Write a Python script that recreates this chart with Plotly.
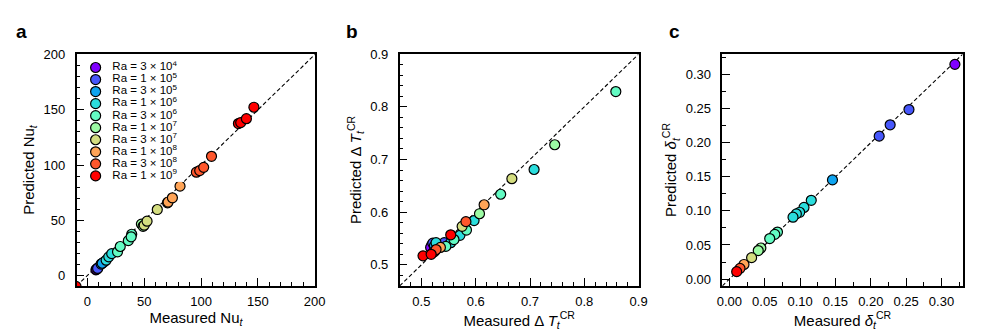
import plotly.graph_objects as go

# Rayleigh numbers (legend labels)
ra_labels = ["3 × 10<sup>4</sup>", "1 × 10<sup>5</sup>", "3 × 10<sup>5</sup>", "1 × 10<sup>6</sup>",
             "3 × 10<sup>6</sup>", "1 × 10<sup>7</sup>", "3 × 10<sup>7</sup>", "1 × 10<sup>8</sup>",
             "3 × 10<sup>8</sup>", "1 × 10<sup>9</sup>"]
# matplotlib "rainbow" sampled at 10 levels
ra_colors = ["rgb(128,0,255)", "rgb(71,87,251)", "rgb(14,164,240)", "rgb(43,221,221)",
             "rgb(99,251,195)", "rgb(156,251,164)", "rgb(212,221,128)", "rgb(255,164,87)",
             "rgb(255,87,44)", "rgb(255,0,0)"]

# panel a: Nu_t
nu_meas = [[7.5, 8.0], [9.2, 9.0], [12.1, 14.1, 13.0], [16.5, 18.8, 21.4],
           [26.5, 28.9, 36.0, 39.0, 38.5], [47.5, 49.0], [50.0, 52.5, 61.5],
           [70.5, 71.0, 74.8, 81.5], [95.9, 98.8, 102.3, 109.2],
           [-10.0, 132.9, 134.9, 139.9, 146.5]]
nu_pred = [[5.0, 5.5], [6.8, 6.3], [10.3, 11.8, 11.0], [13.8, 16.8, 19.7],
           [21.4, 26.2, 31.5, 37.3, 35.0], [46.5, 44.5], [45.5, 49.1, 59.7],
           [65.8, 66.5, 70.3, 80.9], [93.5, 95.0, 97.9, 107.9],
           [-10.0, 137.6, 138.5, 142.0, 152.4]]

# panel b: Delta T_t^CR
dt_meas = [[0.519, 0.517], [0.521, 0.542], [0.524], [0.527, 0.554, 0.571, 0.597, 0.7075],
           [0.545, 0.583, 0.646, 0.858, 0.560], [0.607, 0.7455], [0.575, 0.6666],
           [0.535, 0.525, 0.6155], [0.522, 0.527, 0.582], [0.503, 0.518, 0.554]]
dt_pred = [[0.537, 0.533], [0.541, 0.542], [0.536], [0.542, 0.542, 0.556, 0.584, 0.681],
           [0.535, 0.566, 0.634, 0.829, 0.548], [0.597, 0.728], [0.573, 0.6635],
           [0.533, 0.526, 0.614], [0.524, 0.529, 0.582], [0.517, 0.520, 0.557]]

# panel c: delta_t^CR
dl_meas = [[0.319], [0.254, 0.2274, 0.2119], [0.1458],
           [0.1158, 0.1055, 0.0994, 0.0947, 0.090], [0.068, 0.0642, 0.057],
           [0.0445, 0.0408], [0.0314], [0.0206], [0.015], [0.0103]]
dl_pred = [[0.315], [0.2487, 0.2263, 0.2097], [0.1455],
           [0.1156, 0.1051, 0.098, 0.0956, 0.0908], [0.069, 0.0656, 0.0594],
           [0.0456, 0.0418], [0.0314], [0.0214], [0.0157], [0.0109]]

FONT = "Arial, Liberation Sans, sans-serif"
W, H = 997, 335

panels = [
    dict(meas=nu_meas, pred=nu_pred, rng=[-9.5, 200.5], dtick=50, minor=10, fmt="",
         xt="Measured Nu<sub><i>t</i></sub>", yt="Predicted Nu<sub><i>t</i></sub>",
         box=(72.7, 315.0), letter="a", lx=17),
    dict(meas=dt_meas, pred=dt_pred, rng=[0.46, 0.9], dtick=0.1, minor=0.02, fmt=".1f",
         xt="Measured Δ <i>T</i><sub><i>t</i></sub><sup>CR</sup>",
         yt="Predicted Δ <i>T</i><sub><i>t</i></sub><sup>CR</sup>",
         box=(400.7, 643.3), letter="b", lx=352),
    dict(meas=dl_meas, pred=dl_pred, rng=[-0.01, 0.33], dtick=0.05, minor=0.025, fmt=".2f",
         xt="Measured <i>δ</i><sub><i>t</i></sub><sup>CR</sup>",
         yt="Predicted <i>δ</i><sub><i>t</i></sub><sup>CR</sup>",
         box=(728.3, 972.3), letter="c", lx=680),
]

top_px, bot_px = 48.3, 285.7
ydom = [(H - bot_px) / H, (H - top_px) / H]

fig = go.Figure()
layout = {}
for k, p in enumerate(panels):
    ax = "" if k == 0 else str(k + 1)
    xref, yref = "x" + ax, "y" + ax
    # diagonal y = x
    fig.add_trace(go.Scatter(x=p["rng"], y=p["rng"], mode="lines", xaxis=xref, yaxis=yref,
                             line=dict(color="black", width=1.1, dash="4px,2.5px"),
                             showlegend=False, hoverinfo="skip"))
    for i in range(len(ra_labels)):
        fig.add_trace(go.Scatter(x=p["meas"][i], y=p["pred"][i], mode="markers",
                                 xaxis=xref, yaxis=yref, showlegend=False,
                                 marker=dict(size=10, color=ra_colors[i],
                                             line=dict(color="black", width=1.2))))
    common = dict(range=p["rng"], dtick=p["dtick"], tick0=0, ticks="inside", ticklen=8,
                  tickwidth=1, tickcolor="black", showline=True, linecolor="black",
                  linewidth=1.5, mirror=True, showgrid=False, zeroline=False,
                  tickfont=dict(size=13, color="black", family=FONT), tickformat=p["fmt"],
                  minor=dict(dtick=p["minor"], tick0=0, ticks="inside", ticklen=4,
                             tickcolor="black", showgrid=False))
    layout["xaxis" + ax] = dict(common, domain=[p["box"][0] / W, p["box"][1] / W],
                                anchor=yref, ticklabelstandoff=3,
                                title=dict(text=p["xt"], font=dict(size=15, family=FONT,
                                                                   color="black"), standoff=4))
    layout["yaxis" + ax] = dict(common, domain=ydom, anchor=xref, ticklabelstandoff=7,
                                title=dict(text=p["yt"], font=dict(size=15, family=FONT,
                                                                   color="black"), standoff=5))
    fig.add_annotation(text="<b>" + p["letter"] + "</b>", xref="paper", yref="paper",
                       x=p["lx"] / W, y=(H - 25) / H, showarrow=False,
                       xanchor="center", yanchor="middle",
                       font=dict(size=19, family=FONT, color="black"))

# legend drawn on its own hidden axes inside panel a
leg_idx = list(range(len(ra_labels)))
fig.add_trace(go.Scatter(x=[0] * len(ra_labels), y=leg_idx, mode="markers",
                         xaxis="x4", yaxis="y4", showlegend=False, hoverinfo="skip",
                         marker=dict(size=10, color=ra_colors,
                                     line=dict(color="black", width=1.2))))
fig.add_trace(go.Scatter(x=[1.7] * len(ra_labels), y=leg_idx, mode="text",
                         xaxis="x4", yaxis="y4", showlegend=False, hoverinfo="skip",
                         text=["Ra = " + s for s in ra_labels], textposition="middle right",
                         textfont=dict(size=11.5, family=FONT, color="black")))
leg_top, leg_bot = 62 - 6.2, 173 + 6.2
layout["xaxis4"] = dict(domain=[82 / W, 182 / W], range=[-1, 9], visible=False,
                        anchor="y4", fixedrange=True)
layout["yaxis4"] = dict(domain=[(H - leg_bot) / H, (H - leg_top) / H], range=[9.5, -0.5],
                        visible=False, anchor="x4", fixedrange=True)

fig.update_layout(width=W, height=H, margin=dict(l=0, r=0, t=0, b=0),
                  plot_bgcolor="white", paper_bgcolor="white",
                  font=dict(family=FONT, color="black"), showlegend=False, **layout)

fig.write_html("out.html", config={"displayModeBar": False},
               post_script="document.documentElement.style.margin='0';"
                           "document.body.style.margin='0';"
                           "document.body.style.padding='0';"
                           "document.body.style.overflow='hidden';")
